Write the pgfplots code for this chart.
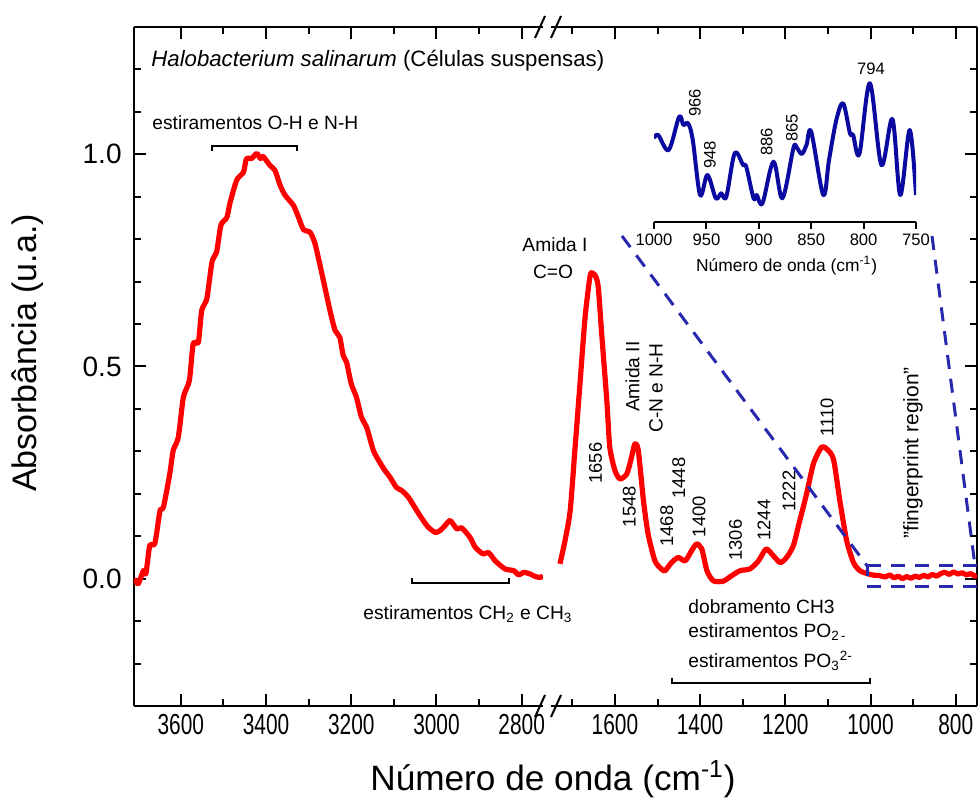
\documentclass[border=0pt]{standalone}
\usepackage{pgfplots}
\pgfplotsset{compat=1.18}
\usepackage{fontspec}
\setmainfont{Liberation Sans}
\newfontfamily\narrowf[FakeStretch=0.72]{Liberation Sans}
\definecolor{specred}{RGB}{255,0,0}
\definecolor{insetblue}{RGB}{10,10,160}
\definecolor{dashblue}{RGB}{40,40,175}
\newcommand\annf{\fontsize{9.6}{11}\selectfont}
\newcommand\numf{\fontsize{9.2}{10}\selectfont}
\newcommand\insf{\fontsize{8.3}{9.5}\selectfont}
\begin{document}
\begin{tikzpicture}
\useasboundingbox (0,0) rectangle (490pt,404.5pt);
\pgfplotsset{
 mainax/.style={
  scale only axis, anchor=south west, height=339.5pt,
  ymin=-0.3, ymax=1.3, x dir=reverse,
  tick align=inside, axis line style={line width=1pt},
  tick style={line width=1pt, black},
  major tick length=6pt, minor tick length=3.5pt,
  axis x line*=box,
  ytick={0,0.5,1},
  minor ytick={-0.2,-0.1,0.1,0.2,0.3,0.4,0.6,0.7,0.8,0.9,1.1,1.2},
  /pgf/number format/assume math mode=true,
  /pgf/number format/set thousands separator={},
  xticklabel style={font=\narrowf\fontsize{14.5}{16}\selectfont, inner sep=0pt, yshift=-4pt},
  yticklabel style={font=\fontsize{14}{16}\selectfont, anchor=east, inner sep=0pt, xshift=-6pt,
    /pgf/number format/fixed, /pgf/number format/fixed zerofill, /pgf/number format/precision=1},
 }
}
% left part
\begin{axis}[mainax, at={(67pt,51.5pt)}, width=204.5pt, xmin=2750, xmax=3710,
  axis y line*=left, xtick={2800,3000,3200,3400,3600}, minor xtick={2900,3100,3300,3500}]
\addplot[specred, line width=2.6pt, line join=round, smooth, tension=0.4] coordinates {
(3710,0.0)(3700,-0.012)(3688,0.019)(3682,0.012)(3673,0.078)(3661,0.083)(3649,0.160)(3641,0.168)
(3626,0.247)(3618,0.302)(3606,0.333)(3594,0.428)(3580,0.467)(3571,0.554)(3559,0.557)(3551,0.632)
(3539,0.660)(3527,0.746)(3516,0.770)(3506,0.833)(3492,0.851)(3485,0.884)(3469,0.939)(3453,0.958)
(3446,0.990)(3434,0.990)(3422,1.002)(3413,0.990)(3407,0.995)(3391,0.974)(3379,0.962)(3367,0.927)
(3355,0.903)(3336,0.880)(3324,0.852)(3312,0.822)(3297,0.817)(3285,0.789)(3269,0.719)(3250,0.632)
(3238,0.585)(3227,0.569)(3219,0.526)(3211,0.510)(3200,0.459)(3188,0.428)(3176,0.380)(3164,0.357)
(3148,0.302)(3133,0.274)(3121,0.255)(3109,0.239)(3094,0.215)(3082,0.208)(3066,0.192)(3046,0.160)
(3031,0.137)(3019,0.121)(3003,0.109)(2992,0.113)(2980,0.125)(2968,0.137)(2952,0.117)(2941,0.120)
(2921,0.097)(2909,0.074)(2890,0.058)(2878,0.062)(2862,0.042)(2839,0.023)(2819,0.019)(2807,0.009)
(2795,0.015)(2780,0.011)(2768,0.005)(2756,0.003)(2750,0.007)};
\end{axis}
% right part
\begin{axis}[mainax, at={(275.5pt,51.5pt)}, width=213pt, xmin=750, xmax=1750,
  axis y line*=right, yticklabels={}, xtick={800,1000,1200,1400,1600}, minor xtick={900,1100,1300,1500,1700}]
\addplot[specred, line width=2.6pt, line join=round, smooth, tension=0.4] coordinates {
(1729,0.035)(1717,0.090)(1705,0.160)(1694,0.302)(1682,0.459)(1670,0.616)(1658,0.715)(1651,0.719)
(1645,0.712)(1639,0.687)(1631,0.577)(1619,0.420)(1612,0.310)(1600,0.255)(1588,0.235)(1572,0.247)
(1561,0.286)(1553,0.318)(1545,0.302)(1533,0.184)(1522,0.105)(1506,0.042)(1490,0.022)(1482,0.019)
(1467,0.038)(1451,0.050)(1435,0.042)(1420,0.066)(1408,0.082)(1396,0.070)(1384,0.019)(1369,-0.005)
(1346,-0.006)(1326,0.007)(1306,0.019)(1283,0.023)(1263,0.042)(1245,0.070)(1228,0.054)(1212,0.038)
(1197,0.050)(1181,0.078)(1166,0.137)(1150,0.200)(1134,0.271)(1115,0.310)(1103,0.306)(1087,0.282)
(1072,0.184)(1056,0.090)(1040,0.038)(1025,0.019)(1005,0.011)(990,0.008)(978,0.007)(965,0.004)
(955,0.009)(945,0.002)(935,0.006)(925,0.000)(915,0.005)(905,0.001)(895,0.006)(885,0.003)
(875,0.008)(865,0.004)(855,0.010)(845,0.006)(835,0.012)(825,0.015)(815,0.010)(805,0.016)
(795,0.011)(785,0.014)(775,0.009)(765,0.012)(755,0.006)(750,0.008)};
\end{axis}
% inset
\begin{axis}[scale only axis, anchor=south west, at={(327pt,293.5pt)}, width=131pt, height=80pt,
  xmin=750, xmax=1000, x dir=reverse, ymin=0, ymax=160,
  axis y line=none, axis x line*=bottom, tick align=outside,
  xtick={750,800,850,900,950,1000}, minor tick num=0, major tick length=3.5pt,
  axis line style={line width=1pt}, tick style={line width=1pt,black},
  /pgf/number format/assume math mode=true, /pgf/number format/set thousands separator={},
  xticklabel style={font=\insf, inner sep=0pt, yshift=-2.5pt}]
\addplot[insetblue, line width=2pt, line join=round, smooth, tension=0.55] coordinates {
(1000,83.7)(996,87)(986,72)(976,105.3)(972,97)(967.5,98.7)(963,82)(956,27)(949,47)(941,23.7)
(936,28.7)(931,25.3)(923,68.7)(915,57)(912,55.3)(905,23.7)(902,27)(896.5,18.7)(886,60.3)(877.5,23.7)
(867,73.7)(864,74.7)(859,68)(854.5,77)(850,90.3)(838.5,27)(833,62)(826,102)(819.5,118.7)(813,88.7)
(810,87)(804,68)(794,138.7)(783,57)(772.5,103)(765,27)(756,92)(750,27)};
\end{axis}
\begin{scope}[x=0.5pt, y=0.5pt]
% axis break marks
\draw[line width=1pt] (535,92) -- (545,114) (551,92) -- (561,114);
\draw[line width=1pt] (535,771) -- (545,793) (551,771) -- (561,793);
% texts
\node[anchor=base west, inner sep=0, font=\fontsize{11.1}{13}\selectfont] at (151,742.3) {\textit{Halobacterium salinarum} (Células suspensas)};
\node[anchor=base west, inner sep=0, font=\annf] at (152,679.3) {estiramentos O-H e N-H};
\draw[line width=1pt] (212,658) -- (212,663) -- (297,663) -- (297,658);
\node[anchor=base west, inner sep=0, font=\annf] at (363,189.5) {estiramentos CH\textsubscript{2} e CH\textsubscript{3}};
\draw[line width=1pt] (412,231) -- (412,226) -- (509,226) -- (509,231);
\node[anchor=base, inner sep=0, font=\annf] at (555,557) {Amida I};
\node[anchor=base, inner sep=0, font=\annf] at (553,530) {C=O};
\node[rotate=90, inner sep=0, font=\annf] at (632.5,432.3) {Amida II};
\node[rotate=90, inner sep=0, font=\annf] at (656,421) {C-N e N-H};
\foreach \x/\y/\t in {595.5/346/1656, 629.3/302.3/1548, 666.7/283/1468, 678.8/331/1448, 699/292.3/1400, 735.6/269/1306, 764/289/1244, 789/318/1222, 827/392/1110}
  \node[rotate=90, inner sep=0, font=\numf] at (\x,\y) {\t};
\node[rotate=90, inner sep=0, font=\fontsize{10.5}{12}\selectfont] at (913,356) {"fingerprint region"};
\node[anchor=base west, inner sep=0, font=\annf] at (688,195) {dobramento CH3};
\node[anchor=base west, inner sep=0, font=\annf] at (688,171.7) {estiramentos PO\textsubscript{2\,-}};
\node[anchor=base west, inner sep=0, font=\annf] at (688,141.7) {estiramentos PO\textsubscript{3}\textsuperscript{2-}};
\draw[line width=1pt] (672,131) -- (672,126) -- (870,126) -- (870,131);
% inset labels
\foreach \x/\y/\t in {695/706/966, 710/654/948, 766.7/667.3/886, 792/681/865}
  \node[rotate=90, inner sep=0, font=\insf] at (\x,\y) {\t};
\node[anchor=base, inner sep=0, font=\insf] at (871,734) {794};
\node[anchor=base, inner sep=0, font=\fontsize{8.7}{10}\selectfont] at (786.7,537.3) {Número de onda (cm\textsuperscript{-1})};
% dashed zoom box
\draw[dashblue, line width=1.5pt, dash pattern=on 7pt off 5pt] (867,243.3) -- (977,243.3) (867,222.3) -- (977,222.3);
\draw[dashblue, line width=1.5pt] (867,243.3) -- (867,233);
\draw[dashblue, line width=1.5pt, dash pattern=on 7pt off 5pt] (622,573) -- (867,243.3) (932,573) -- (975,243.3);
% axis titles
\node[rotate=90, inner sep=0, font=\fontsize{17}{20}\selectfont] at (28,456) {Absorbância (u.a.)};
\node[anchor=base, inner sep=0, font=\fontsize{17.6}{20}\selectfont] at (553,19) {Número de onda (cm\textsuperscript{-1})};
\end{scope}
\end{tikzpicture}
\end{document}
